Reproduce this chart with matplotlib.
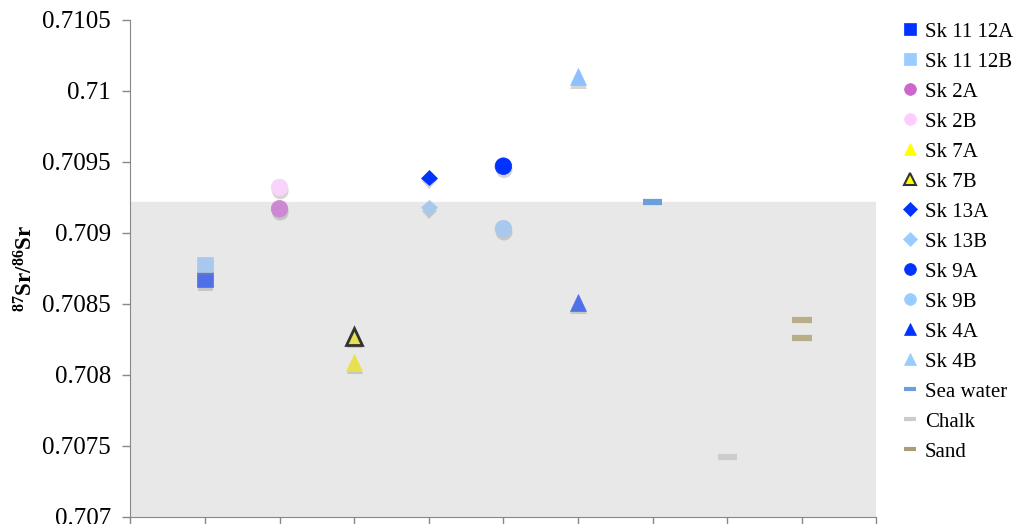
import matplotlib
matplotlib.use("Agg")
import matplotlib.pyplot as plt
import matplotlib.patheffects as pe
from matplotlib.lines import Line2D

plt.rcParams['font.family'] = ['Liberation Serif', 'DejaVu Serif']
plt.rcParams['mathtext.fontset'] = 'custom'
plt.rcParams['mathtext.rm'] = 'Liberation Serif'
plt.rcParams['mathtext.bf'] = 'Liberation Serif:bold'

# series: name, x position, values
names = ['Sk 11 12A', 'Sk 11 12B', 'Sk 2A', 'Sk 2B', 'Sk 7A', 'Sk 7B',
         'Sk 13A', 'Sk 13B', 'Sk 9A', 'Sk 9B', 'Sk 4A', 'Sk 4B',
         'Sea water', 'Chalk', 'Sand']
xpos = [1, 1, 2, 2, 3, 3, 4, 4, 5, 5, 6, 6, 7, 8, 9]
values = [[0.70867], [0.70878], [0.70917], [0.70932], [0.70809], [0.70827],
          [0.70939], [0.70918], [0.70947], [0.70903], [0.70851], [0.71010],
          [0.70922], [0.70742], [0.70839, 0.70826]]

markers = ['s', 's', 'o', 'o', '^', '^', 'D', 'D', 'o', 'o', '^', '^', '_', '_', '_']
plot_colors = ['#5070EA', '#A8C8EE', '#CC88D0', '#F8D4F8', '#E8E050', '#E8E050',
               '#0033FF', '#A8C8EE', '#0033FF', '#A8C8EE', '#5070EA', '#8EC0FF',
               '#6A9FDE', '#CCCCCC', '#B8AE8A']
legend_colors = ['#0033FF', '#99CCFF', '#CC66CC', '#FFCCFF', '#FFFF00', '#FFFF00',
                 '#0033FF', '#99CCFF', '#0033FF', '#99CCFF', '#0033FF', '#99CCFF',
                 '#6A9FDE', '#CCCCCC', '#A89E78']
edge_colors = [None, None, None, None, None, '#333333',
               None, None, None, None, None, None, None, None, None]
sizes = [11, 11, 12, 12, 12, 12, 8, 8, 12, 12, 12, 12, 14, 14, 14]

# shaded band (range of local values)
band_low = 0.707
band_high = 0.70922

fig = plt.figure(figsize=(10.18, 5.24), dpi=100)
ax = fig.add_axes([0.128, 0.0134, 0.733, 0.9486])

ax.axhspan(band_low, band_high, color='#E8E8E8', zorder=0)

shadow = [pe.SimplePatchShadow(offset=(0.5, -2.5), shadow_rgbFace='#888888', alpha=0.35),
          pe.Normal()]

handles = []
for name, x, vals, m, c, lc, ec, s in zip(names, xpos, values, markers, plot_colors,
                                         legend_colors, edge_colors, sizes):
    if m == '_':
        ax.plot([x] * len(vals), vals, linestyle='none', marker=m, markersize=s,
                markeredgewidth=4.5, color=c, path_effects=shadow, zorder=3)
        handles.append(Line2D([], [], linestyle='none', marker='_', markersize=8,
                              markeredgewidth=3, color=lc))
    else:
        mec = ec if ec else c
        mew = 2 if ec else 0.5
        ax.plot([x] * len(vals), vals, linestyle='none', marker=m, markersize=s,
                markerfacecolor=c, markeredgecolor=mec, markeredgewidth=mew,
                path_effects=shadow, zorder=3)
        hs = 7 if m == 'D' else 8.5
        handles.append(Line2D([], [], linestyle='none', marker=m, markersize=hs,
                              markerfacecolor=lc, markeredgecolor=ec if ec else lc,
                              markeredgewidth=1.5 if ec else 0.5))

ax.set_xlim(0, 10)
ax.set_ylim(0.707, 0.7105)
ax.set_xticks(range(0, 11))
ax.set_xticklabels([])
yt = [0.707, 0.7075, 0.708, 0.7085, 0.709, 0.7095, 0.71, 0.7105]
ax.set_yticks(yt)
ax.set_yticklabels(['0.707', '0.7075', '0.708', '0.7085', '0.709', '0.7095', '0.71', '0.7105'])
ax.tick_params(axis='both', direction='out', length=6, color='#888888', width=1)
ax.tick_params(axis='y', labelsize=18, pad=8)
for sp in ['top', 'right']:
    ax.spines[sp].set_visible(False)
for sp in ['left', 'bottom']:
    ax.spines[sp].set_color('#888888')
ax.set_ylabel(r'$\mathbf{^{87}Sr/^{86}Sr}$', fontsize=16.5)
ax.yaxis.set_label_coords(-0.125, 0.5)

fig.legend(handles, names, loc='upper left', bbox_to_anchor=(0.878, 0.974),
           frameon=False, fontsize=15, handlelength=0.8, handletextpad=0.3,
           labelspacing=0.5, borderaxespad=0)

fig.savefig('out.png', dpi=100)
